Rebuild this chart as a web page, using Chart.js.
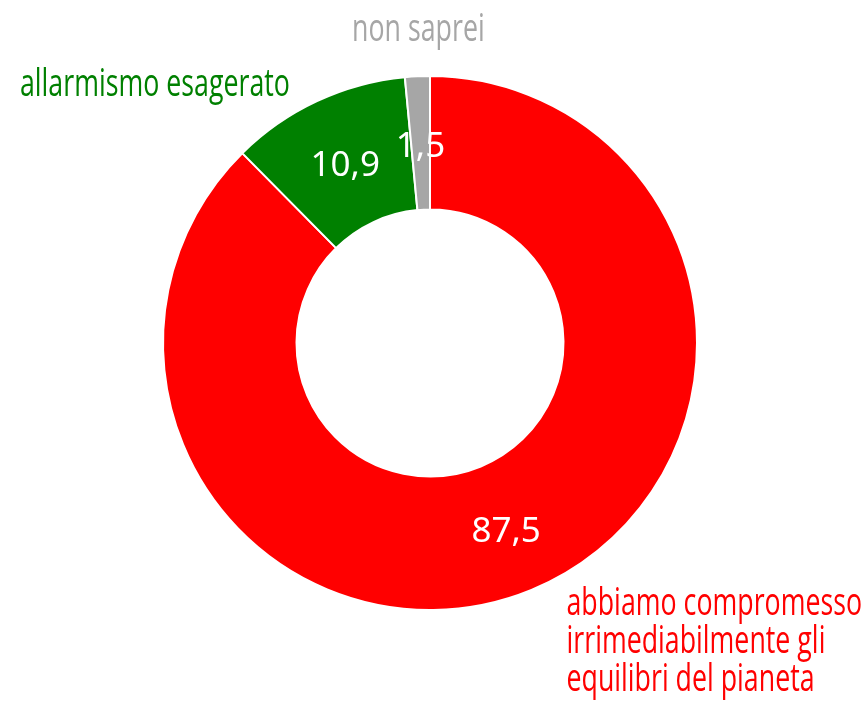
<!DOCTYPE html>
<html>
<head>
<meta charset="utf-8">
<script src="https://cdn.jsdelivr.net/npm/chart.js@4"></script>
<style>
  html, body { margin: 0; padding: 0; background: #fff; }
  #wrap { width: 864px; height: 708px; }
</style>
</head>
<body>
<div id="wrap"><canvas id="donut"></canvas></div>
<script>
const categories = ['abbiamo compromesso irrimediabilmente gli equilibri del pianeta', 'allarmismo esagerato', 'non saprei'];
const labelLines = [
    ['abbiamo compromesso', 'irrimediabilmente gli', 'equilibri del pianeta'],
    ['allarmismo esagerato'],
    ['non saprei']
];
const values = [87.5, 10.9, 1.5];
const colors = ['#ff0000', '#008000', '#a6a6a6'];

const labelFont = '38px "Open Sans", sans-serif';

// condensed text: squeeze horizontally around the anchor
function narrowText(ctx, text, x, y, align, sx) {
    const w = ctx.measureText(text).width * sx;
    let left = x;
    if (align === 'center') left = x - w / 2;
    if (align === 'right') left = x - w;
    ctx.save();
    ctx.textAlign = 'left';
    ctx.translate(left, y);
    ctx.scale(sx, 1);
    ctx.fillText(text, 0, 0);
    ctx.restore();
}

const sliceLabels = {
    id: 'sliceLabels',
    afterDraw(chart) {
        const ctx = chart.ctx;
        const arcs = chart.getDatasetMeta(0).data;
        ctx.save();
        ctx.font = labelFont;
        const sx = 270 / ctx.measureText('allarmismo esagerato').width;
        arcs.forEach((arc, i) => {
            const mid = (arc.startAngle + arc.endAngle) / 2;
            const r = (arc.innerRadius + arc.outerRadius) / 2;
            ctx.fillStyle = '#fff';
            ctx.font = '35px "Noto Sans", sans-serif';
            ctx.textAlign = 'center';
            ctx.textBaseline = 'middle';
            ctx.fillText(String(values[i]).replace('.', ','), arc.x + Math.cos(mid) * r, arc.y + Math.sin(mid) * r + 4);

            const ox = arc.x + Math.cos(mid) * arc.outerRadius;
            const oy = arc.y + Math.sin(mid) * arc.outerRadius;
            ctx.fillStyle = colors[i];
            ctx.font = labelFont;
            ctx.textBaseline = 'middle';
            const lines = labelLines[i];
            if (i === 0) {
                lines.forEach((t, k) => narrowText(ctx, t, ox + 35, oy + 14 + k * 38, 'left', sx));
            } else if (i === 1) {
                narrowText(ctx, lines[0], ox - 27, oy - 16, 'right', sx);
            } else {
                narrowText(ctx, lines[0], ox + 1, oy - 46, 'center', sx);
            }
        });
        ctx.restore();
    }
};

new Chart(document.getElementById('donut'), {
    type: 'doughnut',
    data: {
        labels: categories,
        datasets: [{
            data: values,
            backgroundColor: colors,
            borderColor: '#fff',
            borderWidth: 2
        }]
    },
    options: {
        responsive: true,
        maintainAspectRatio: false,
        animation: false,
        cutout: '50%',
        layout: { padding: { top: 75, bottom: 97, left: 162, right: 166 } },
        plugins: {
            legend: { display: false },
            tooltip: { enabled: false }
        }
    },
    plugins: [sliceLabels]
});
</script>
</body>
</html>
